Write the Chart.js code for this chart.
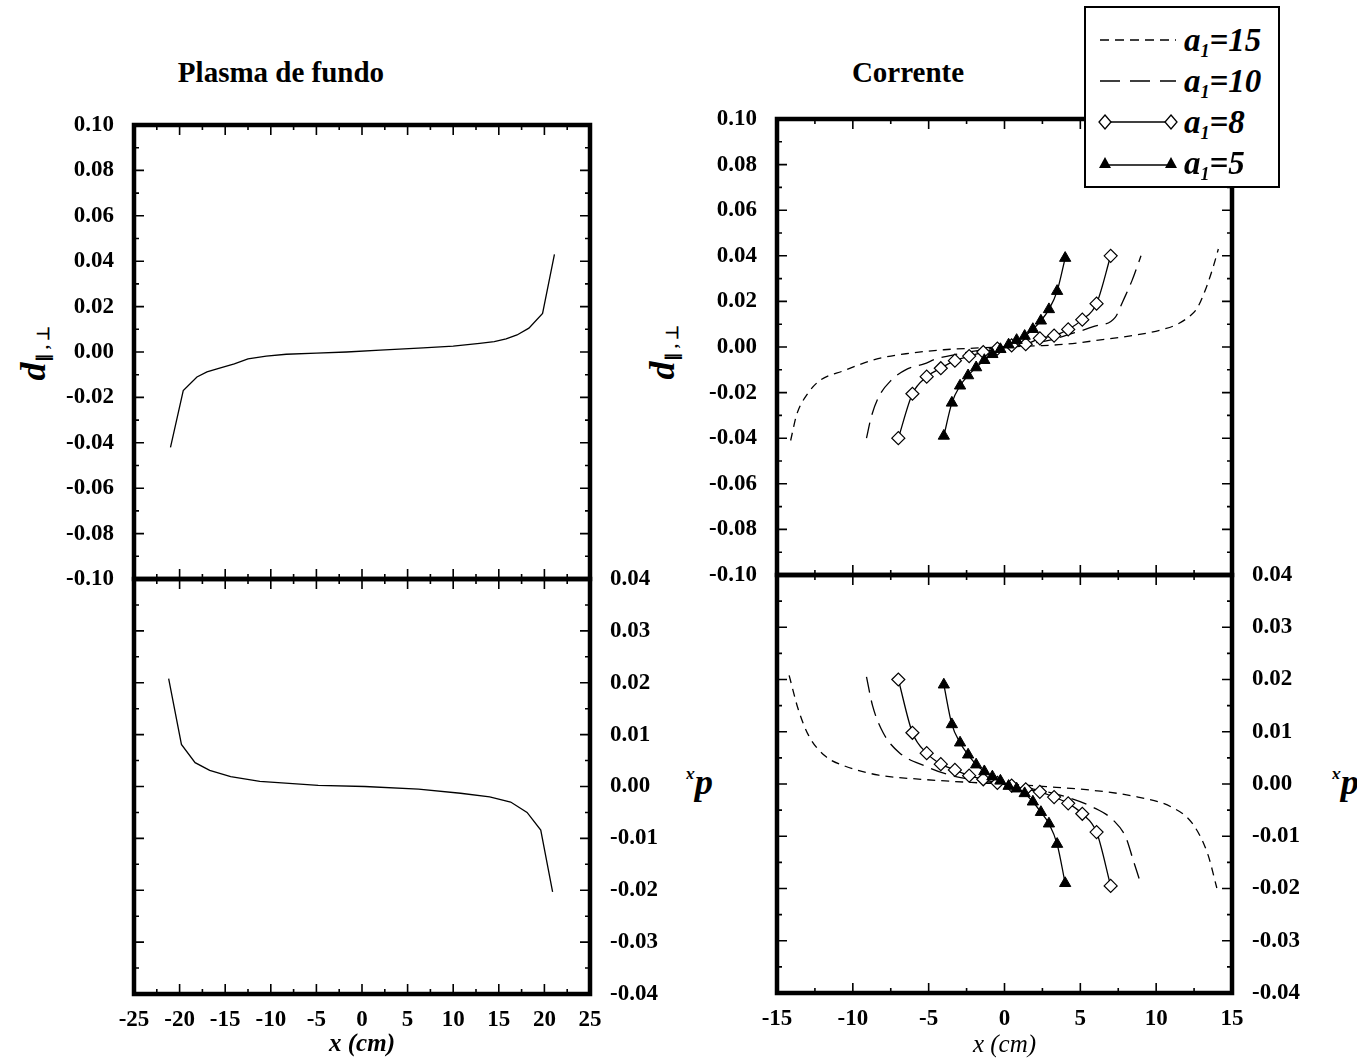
<!DOCTYPE html>
<html>
<head>
<meta charset="utf-8">
<script src="https://cdn.jsdelivr.net/npm/chart.js@4.4.1/dist/chart.umd.min.js"></script>
<style>
  html, body { margin: 0; padding: 0; background: #fff; }
  body { width: 1357px; height: 1062px; position: relative; overflow: hidden;
         font-family: "Liberation Serif", "Times New Roman", serif; color: #000; }
  canvas { position: absolute; }
  .title { position: absolute; font-weight: bold; font-size: 29px; white-space: nowrap;
           transform: translate(-50%, -50%); }
  .ylab { position: absolute; white-space: nowrap; font-weight: bold; }
  .ylab i { font-size: 36px; }
  .ylab sub { font-size: 17px; vertical-align: -4px; }
  .ylab sub.dx { font-size: 16px; vertical-align: -6px; }
  .rot90 { transform: translate(-50%, -50%) rotate(-90deg); }
  .rot180 { transform: translate(-50%, -50%) rotate(180deg); }
  #legend { position: absolute; left: 1084px; top: 6px; width: 196px; height: 182px;
            border: 2px solid #000; background: #fff; z-index: 10; box-sizing: border-box; }
  .row { position: absolute; left: 10px; height: 40px; width: 180px; }
  .row svg { position: absolute; left: 2px; top: 10px; }
  .row span { position: absolute; left: 88px; top: 0; font: italic bold 33px "Liberation Serif", serif; line-height: 40px; }
  .row sub { font-size: 18px; vertical-align: -6px; }
</style>
</head>
<body>
<div class="title" style="left:281px; top:72px;">Plasma de fundo</div>
<div class="title" style="left:908px; top:72px;">Corrente</div>

<div class="ylab rot90" style="left:33px; top:353px;"><i>d</i><sub>&#8741; , &#8869;</sub></div>
<div class="ylab rot90" style="left:662px; top:352px;"><i>d</i><sub>&#8741; , &#8869;</sub></div>
<div class="ylab rot180" style="left:699px; top:788px;"><i>d</i><sub class="dx"><i style="font-size:17px">x</i></sub></div>
<div class="ylab rot180" style="left:1345px; top:788px;"><i>d</i><sub class="dx"><i style="font-size:17px">x</i></sub></div>

<div id="legend">
  <div class="row" style="top:12px;">
    <svg width="80" height="20"><line x1="2" y1="10" x2="78" y2="10" stroke="#000" stroke-width="1.3" stroke-dasharray="9 6"/></svg>
    <span>a<sub>1</sub>=15</span>
  </div>
  <div class="row" style="top:53px;">
    <svg width="80" height="20"><line x1="2" y1="10" x2="78" y2="10" stroke="#000" stroke-width="1.3" stroke-dasharray="20 10"/></svg>
    <span>a<sub>1</sub>=10</span>
  </div>
  <div class="row" style="top:94px;">
    <svg width="80" height="20"><line x1="7" y1="10" x2="73" y2="10" stroke="#000" stroke-width="1.3"/>
      <polygon points="7,3 13,10 7,17 1,10" fill="#fff" stroke="#000" stroke-width="1.3"/>
      <polygon points="73,3 79,10 73,17 67,10" fill="#fff" stroke="#000" stroke-width="1.3"/></svg>
    <span>a<sub>1</sub>=8</span>
  </div>
  <div class="row" style="top:135px;">
    <svg width="80" height="20"><line x1="7" y1="12" x2="73" y2="12" stroke="#000" stroke-width="1.3"/>
      <polygon points="7,4 13,15 1,15" fill="#000"/>
      <polygon points="73,4 79,15 67,15" fill="#000"/></svg>
    <span>a<sub>1</sub>=5</span>
  </div>
</div>

<canvas id="cA" width="620" height="520" style="left:0px; top:90px;"></canvas>
<canvas id="cB" width="680" height="517" style="left:0px; top:545px;"></canvas>
<canvas id="cC" width="640" height="525" style="left:640px; top:85px;"></canvas>
<canvas id="cD" width="717" height="522" style="left:640px; top:540px;"></canvas>

<script>
// ---- Plasma de fundo ----
const fundoX_par = [-21.0, -19.6, -18.1, -17.0, -15.8, -14.0, -12.5, -10.5, -8.3, -5.0, -1.7, 2.0, 6.7, 10.0, 12.9, 14.5, 15.8, 17.0, 18.3, 19.8, 21.1];
const fundoD_par = [-0.042, -0.017, -0.011, -0.0088, -0.0073, -0.0052, -0.003, -0.0018, -0.001, -0.0005, 0, 0.0008, 0.0018, 0.0026, 0.0038, 0.0046, 0.0058, 0.0075, 0.0105, 0.017, 0.043];
const fundoX_x = [-21.2, -19.8, -18.3, -16.7, -14.4, -11.2, -8.0, -4.8, 0.3, 6.2, 10.8, 14.0, 16.3, 18.1, 19.6, 20.9];
const fundoD_x = [0.0208, 0.0081, 0.0046, 0.0031, 0.0019, 0.001, 0.0006, 0.0002, 0, -0.0005, -0.0013, -0.002, -0.003, -0.005, -0.0084, -0.0203];

// ---- Corrente, d parallel/perp ----
const a15X_par = [-14.1, -13.7, -13.0, -12.2, -10.6, -8.4, -6.2, -4.0, -2.0, 0, 2.0, 4.0, 6.2, 8.9, 10.6, 11.4, 12.2, 12.7, 13.3, 13.8, 14.1];
const a15D_par = [-0.041, -0.0296, -0.0207, -0.0148, -0.0104, -0.0052, -0.0027, -0.0012, -0.0005, 0, 0.0005, 0.0012, 0.003, 0.0055, 0.008, 0.010, 0.0135, 0.017, 0.026, 0.036, 0.043];
const a10X_par = [-9.1, -8.8, -8.3, -7.5, -6.4, -5.3, -4.5, -3.0, -1.5, 0, 1.5, 3.0, 4.2, 5.9, 7.3, 7.8, 8.4, 9.0];
const a10D_par = [-0.040, -0.031, -0.022, -0.0148, -0.0096, -0.0074, -0.0052, -0.003, -0.0013, 0, 0.0013, 0.003, 0.0054, 0.009, 0.013, 0.020, 0.029, 0.040];
const a8X = [-7.0, -6.07, -5.13, -4.2, -3.27, -2.33, -1.4, -0.47, 0.47, 1.4, 2.33, 3.27, 4.2, 5.13, 6.07, 7.0];
const a8D_par = [-0.040, -0.0205, -0.013, -0.0093, -0.006, -0.004, -0.0022, -0.0007, 0.0007, 0.0012, 0.0038, 0.005, 0.0077, 0.012, 0.019, 0.040];
const a5X = [-4.0, -3.47, -2.93, -2.4, -1.87, -1.33, -0.8, -0.27, 0.27, 0.8, 1.33, 1.87, 2.4, 2.93, 3.47, 4.0];
const a5D_par = [-0.039, -0.0245, -0.017, -0.0125, -0.009, -0.0058, -0.0032, -0.001, 0.001, 0.003, 0.0048, 0.0078, 0.0115, 0.0165, 0.0245, 0.039];

// ---- Corrente, d_x ----
const a15X_x = [-14.2, -13.6, -12.9, -11.8, -10.5, -8.3, -5.5, -2.2, 0, 2.75, 6.1, 8.8, 11.0, 12.4, 13.4, 14.0];
const a15D_x = [0.0208, 0.0143, 0.0092, 0.0053, 0.0034, 0.0017, 0.0009, 0.0003, 0, -0.0005, -0.0013, -0.0025, -0.0044, -0.0076, -0.0134, -0.0199];
const a10X_x = [-9.1, -8.7, -8.0, -6.9, -5.2, -3.6, -1.8, 0, 1.8, 4.1, 5.8, 7.2, 8.0, 8.5, 9.0];
const a10D_x = [0.0205, 0.015, 0.0098, 0.0059, 0.0034, 0.0017, 0.0007, 0, -0.0009, -0.0025, -0.0044, -0.007, -0.0102, -0.0147, -0.0192];
const a8D_x = [0.0200, 0.0098, 0.0059, 0.0038, 0.0027, 0.0016, 0.0009, 0.0002, -0.0003, -0.001, -0.0015, -0.0025, -0.0037, -0.0057, -0.0092, -0.0195];
const a5D_x = [0.019, 0.0114, 0.0079, 0.0056, 0.0037, 0.0024, 0.0014, 0.0006, -0.0004, -0.0009, -0.0018, -0.0034, -0.0054, -0.0076, -0.0115, -0.019];

Chart.defaults.font.family = '"Liberation Serif", "Times New Roman", serif';
Chart.defaults.color = '#000';

// thick box + inward major/minor ticks on all four sides
const frameTicks = {
  id: 'frameTicks',
  afterDraw(chart, args, opts) {
    const {ctx, chartArea: a} = chart;
    const xs = chart.scales.x, ys = chart.scales.y;
    ctx.save();
    ctx.strokeStyle = '#000';
    ctx.lineWidth = 1.6;
    ctx.beginPath();
    const nx = Math.round((xs.max - xs.min) / opts.xMinor), kx = Math.round(opts.xMajor / opts.xMinor);
    for (let i = 0; i <= nx; i++) {
      const px = xs.getPixelForValue(xs.min + i * opts.xMinor);
      const len = i % kx === 0 ? 10 : 5;
      ctx.moveTo(px, a.top); ctx.lineTo(px, a.top + len);
      ctx.moveTo(px, a.bottom); ctx.lineTo(px, a.bottom - len);
    }
    const ny = Math.round((ys.max - ys.min) / opts.yMinor), ky = Math.round(opts.yMajor / opts.yMinor);
    for (let i = 0; i <= ny; i++) {
      const py = ys.getPixelForValue(ys.min + i * opts.yMinor);
      const len = i % ky === 0 ? 10 : 5;
      ctx.moveTo(a.left, py); ctx.lineTo(a.left + len, py);
      ctx.moveTo(a.right, py); ctx.lineTo(a.right - len, py);
    }
    ctx.stroke();
    ctx.lineWidth = 4.5;
    ctx.strokeRect(a.left, a.top, a.right - a.left, a.bottom - a.top);
    ctx.restore();
  }
};

function series(xs, ys, style) {
  return Object.assign({
    data: xs.map((x, i) => ({x: x, y: ys[i]})),
    borderColor: '#000', borderWidth: 1.3, pointRadius: 0, fill: false, tension: 0
  }, style);
}

const dashShort = {borderDash: [8, 6], cubicInterpolationMode: 'monotone'};
const dashLong = {borderDash: [16, 8], cubicInterpolationMode: 'monotone'};
const diamonds = {cubicInterpolationMode: 'monotone', pointStyle: 'rectRot', pointRadius: 6.5,
  pointBackgroundColor: '#fff', pointBorderColor: '#000', pointBorderWidth: 1.2};
const triangles = {cubicInterpolationMode: 'monotone', pointStyle: 'triangle', pointRadius: 6.5,
  pointBackgroundColor: '#000', pointBorderColor: '#000', pointBorderWidth: 1};

const tickFont = {size: 23, weight: 'bold'};
const fmt = v => (Math.abs(v) < 1e-9 ? 0 : v).toFixed(2);

function makePanel(id, p) {
  const yAxis = {
    type: 'linear', position: p.yPos, min: p.yMin, max: p.yMax,
    grid: {display: false}, border: {display: false},
    ticks: {stepSize: p.yStep, font: tickFont, padding: 12, autoSkip: false, callback: fmt},
    afterFit: s => { s.width = p.yWidth; }
  };
  const xAxis = {
    type: 'linear', position: 'bottom', min: p.xMin, max: p.xMax,
    display: p.xShow, grid: {display: false}, border: {display: false},
    ticks: {stepSize: 5, font: tickFont, padding: 4, autoSkip: false, maxRotation: 0,
            callback: v => String(v)},
    title: {display: p.xShow, text: 'x (cm)', padding: {top: 0, bottom: 2},
            font: {size: 25, style: 'italic', weight: p.xTitleWeight}},
    afterFit: s => { if (p.xHeight) s.height = p.xHeight; }
  };
  return new Chart(document.getElementById(id), {
    type: 'line',
    data: {datasets: p.datasets},
    options: {
      responsive: false, animation: false, events: [],
      layout: {padding: p.padding},
      plugins: {legend: {display: false}, tooltip: {enabled: false},
                frameTicks: {xMajor: 5, xMinor: 2.5, yMajor: p.yStep, yMinor: p.yStep / 2}},
      scales: {x: xAxis, y: yAxis}
    },
    plugins: [frameTicks]
  });
}

makePanel('cA', {
  yPos: 'left', yMin: -0.1, yMax: 0.1, yStep: 0.02, yWidth: 134,
  xMin: -25, xMax: 25, xShow: false,
  padding: {left: 0, top: 35, right: 30, bottom: 31},
  datasets: [series(fundoX_par, fundoD_par, {})]
});

makePanel('cB', {
  yPos: 'right', yMin: -0.04, yMax: 0.04, yStep: 0.01, yWidth: 90,
  xMin: -25, xMax: 25, xShow: true, xHeight: 68, xTitleWeight: 'bold',
  padding: {left: 134, top: 34, right: 0, bottom: 0},
  datasets: [series(fundoX_x, fundoD_x, {})]
});

makePanel('cC', {
  yPos: 'left', yMin: -0.1, yMax: 0.1, yStep: 0.02, yWidth: 137,
  xMin: -15, xMax: 15, xShow: false,
  padding: {left: 0, top: 34, right: 48, bottom: 35},
  datasets: [
    series(a5X, a5D_par, triangles),
    series(a8X, a8D_par, diamonds),
    series(a10X_par, a10D_par, dashLong),
    series(a15X_par, a15D_par, dashShort)
  ]
});

makePanel('cD', {
  yPos: 'right', yMin: -0.04, yMax: 0.04, yStep: 0.01, yWidth: 125,
  xMin: -15, xMax: 15, xShow: true, xHeight: 69, xTitleWeight: 'normal',
  padding: {left: 137, top: 35, right: 0, bottom: 0},
  datasets: [
    series(a5X, a5D_x, triangles),
    series(a8X, a8D_x, diamonds),
    series(a10X_x, a10D_x, dashLong),
    series(a15X_x, a15D_x, dashShort)
  ]
});
</script>
</body>
</html>
